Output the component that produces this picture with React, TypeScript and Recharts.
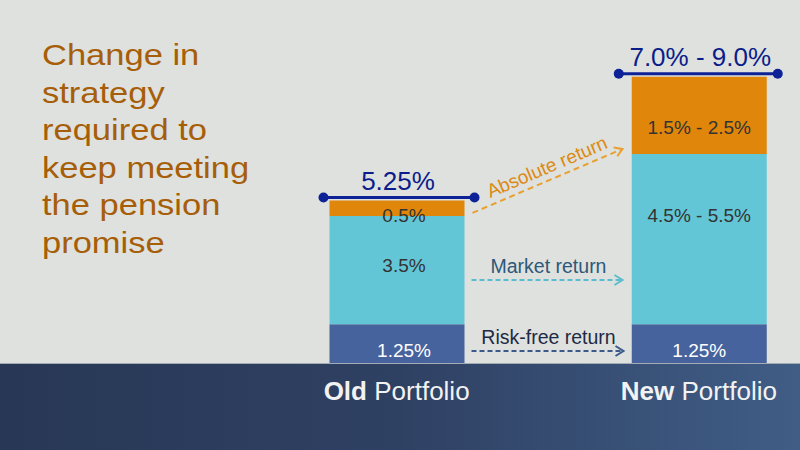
import { BarChart, Bar, XAxis, YAxis, Rectangle } from 'recharts';

const categories = ['Old Portfolio', 'New Portfolio'];
const categoryBold = ['Old', 'New'];
const categoryRest = ['Portfolio', 'Portfolio'];
const riskFree = [1.25, 1.25];
const market = [3.5, 5.5];
const absolute = [0.5, 2.5];
const riskFreeLabels = ['1.25%', '1.25%'];
const marketLabels = ['3.5%', '4.5% - 5.5%'];
const absoluteLabels = ['0.5%', '1.5% - 2.5%'];
const totalLabels = ['5.25%', '7.0% - 9.0%'];
const titleLines = ['Change in', 'strategy', 'required to', 'keep meeting', 'the pension', 'promise'];

const data = categories.map((name, i) => ({
  name,
  riskFree: riskFree[i],
  market: market[i],
  absolute: absolute[i],
}));

const ORANGE = '#e0860a';
const CYAN = '#63c6d6';
const BLUE = '#47639d';
const NAVY = '#0d2296';
const FONT = '"Liberation Sans", Arial, sans-serif';

function Arrow({ x1, x2, y, color }: { x1: number; x2: number; y: number; color: string }) {
  return (
    <g>
      <line x1={x1} y1={y} x2={x2 - 2} y2={y} stroke={color} strokeWidth={2} strokeDasharray="5 3" />
      <polyline
        points={`${x2 - 8},${y - 5} ${x2},${y} ${x2 - 8},${y + 5}`}
        fill="none"
        stroke={color}
        strokeWidth={2}
      />
    </g>
  );
}

function RiskFreeShape(props: any) {
  const { x, y, width, height, payload } = props;
  const i = categories.indexOf(payload.name);
  const cx = x + width / 2 + (i === 0 ? 7 : 0);
  return (
    <g>
      <Rectangle x={x} y={y} width={width} height={height} fill={BLUE} />
      <text x={cx} y={y + height - 6} textAnchor="middle" fontSize={19} fill="#ffffff" fontFamily={FONT}>
        {riskFreeLabels[i]}
      </text>
      {i === 0 && (
        <g>
          <text x={x + width + 84} y={344} textAnchor="middle" fontSize={19.5} fill="#1d2a45" fontFamily={FONT}>
            Risk-free return
          </text>
          <Arrow x1={x + width + 7} x2={x + width + 159} y={351} color="#3d5a8c" />
        </g>
      )}
    </g>
  );
}

function MarketShape(props: any) {
  const { x, y, width, height, payload } = props;
  const i = categories.indexOf(payload.name);
  const cx = x + width / 2 + (i === 0 ? 7 : 0);
  const ly = i === 0 ? y + height * 0.52 : y + height * 0.4;
  return (
    <g>
      <Rectangle x={x} y={y} width={width} height={height} fill={CYAN} />
      <text x={cx} y={ly} textAnchor="middle" fontSize={19} fill="#333333" fontFamily={FONT}>
        {marketLabels[i]}
      </text>
      {i === 0 && (
        <g>
          <text x={x + width + 84} y={273} textAnchor="middle" fontSize={19.5} fill="#2c587a" fontFamily={FONT}>
            Market return
          </text>
          <Arrow x1={x + width + 7} x2={x + width + 158} y={280} color="#5bbccd" />
        </g>
      )}
    </g>
  );
}

function AbsoluteShape(props: any) {
  const { x, y, width, height, payload } = props;
  const i = categories.indexOf(payload.name);
  const cx = x + width / 2 + (i === 0 ? 7 : 0);
  const ly = i === 0 ? y + height + 6 : y + height * 0.74;
  const lineY = y - 3;
  const lx1 = x - (i === 0 ? 6 : 13);
  const lx2 = x + width + (i === 0 ? 10 : 11);
  // slanted arrow from the old top segment up to the new one
  const ax1 = x + width + 8;
  const ay1 = y + height * 0.8;
  const ax2 = x + width + 158;
  const ay2 = ay1 - 64;
  const ang = Math.atan2(ay2 - ay1, ax2 - ax1);
  const head = 9;
  return (
    <g>
      <Rectangle x={x} y={y} width={width} height={height} fill={ORANGE} />
      <text x={cx} y={ly} textAnchor="middle" fontSize={19} fill="#333333" fontFamily={FONT}>
        {absoluteLabels[i]}
      </text>
      <line x1={lx1} y1={lineY} x2={lx2} y2={lineY} stroke={NAVY} strokeWidth={3} />
      <circle cx={lx1} cy={lineY} r={5} fill={NAVY} />
      <circle cx={lx2} cy={lineY} r={5} fill={NAVY} />
      <text
        x={x + width / 2 + 1}
        y={lineY - 8}
        textAnchor="middle"
        fontSize={26}
        fill="#0b1d8a"
        fontFamily={FONT}
      >
        {totalLabels[i]}
      </text>
      {i === 0 && (
        <g>
          <line
            x1={ax1}
            y1={ay1}
            x2={ax2 - 2 * Math.cos(ang)}
            y2={ay2 - 2 * Math.sin(ang)}
            stroke="#e9a030"
            strokeWidth={2}
            strokeDasharray="6 4"
          />
          <polyline
            points={`${ax2 - head * Math.cos(ang - 0.55)},${ay2 - head * Math.sin(ang - 0.55)} ${ax2},${ay2} ${
              ax2 - head * Math.cos(ang + 0.55)
            },${ay2 - head * Math.sin(ang + 0.55)}`}
            fill="none"
            stroke="#e9a030"
            strokeWidth={2}
          />
          <text
            x={x + width + 85}
            y={ay1 - 40}
            textAnchor="middle"
            fontSize={19}
            fill="#db8a12"
            fontFamily={FONT}
            transform={`rotate(-23 ${x + width + 85} ${ay1 - 40})`}
          >
            Absolute return
          </text>
        </g>
      )}
    </g>
  );
}

function CategoryTick(props: any) {
  const { x, y, payload } = props;
  const i = categories.indexOf(payload.value);
  return (
    <text x={x} y={y + 36.5} textAnchor="middle" fontSize={26} fill="#f2f2f2" fontFamily={FONT}>
      <tspan fontWeight="bold">{categoryBold[i]}</tspan>
      <tspan> {categoryRest[i]}</tspan>
    </text>
  );
}

export default function App() {
  return (
    <div
      style={{
        position: 'absolute',
        left: 0,
        top: 0,
        width: 800,
        height: 450,
        overflow: 'hidden',
        background: '#dfe1de',
        fontFamily: FONT,
      }}
    >
      <div
        style={{
          position: 'absolute',
          left: 0,
          top: 363,
          width: 800,
          height: 87,
          background: 'linear-gradient(90deg, #283755 0%, #2f4163 50%, #405d86 100%)',
          borderTop: '1px solid #a3abb5',
          boxSizing: 'border-box',
        }}
      />
      <div
        style={{
          position: 'absolute',
          left: 42,
          top: 36,
          fontSize: 30,
          lineHeight: '37.6px',
          color: '#a65e09',
          transform: 'scaleX(1.15)',
          transformOrigin: 'left top',
          whiteSpace: 'nowrap',
        }}
      >
        {titleLines.map((line) => (
          <div key={line}>{line}</div>
        ))}
      </div>
      <div style={{ position: 'absolute', left: 0, top: 0 }}>
        <BarChart
          width={850}
          height={450}
          data={data}
          margin={{ top: 76.75, right: 0, bottom: 0, left: 245.5 }}
        >
          <XAxis
            dataKey="name"
            axisLine={false}
            tickLine={false}
            tickSize={0}
            tickMargin={0}
            height={87}
            interval={0}
            tick={<CategoryTick />}
          />
          <YAxis hide domain={[0, 9.25]} />
          <Bar dataKey="riskFree" stackId="a" barSize={135} fill={BLUE} shape={<RiskFreeShape />} isAnimationActive={false} />
          <Bar dataKey="market" stackId="a" barSize={135} fill={CYAN} shape={<MarketShape />} isAnimationActive={false} />
          <Bar dataKey="absolute" stackId="a" barSize={135} fill={ORANGE} shape={<AbsoluteShape />} isAnimationActive={false} />
        </BarChart>
      </div>
    </div>
  );
}
